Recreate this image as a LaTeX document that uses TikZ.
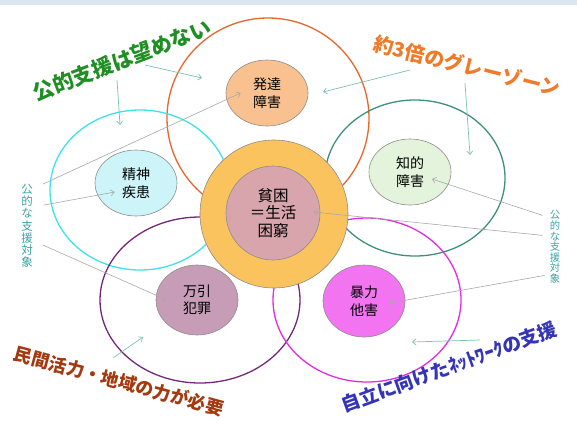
\documentclass[tikz,border=0pt]{standalone}
\usepackage{fontspec}
\setmainfont{Noto Sans CJK JP}
\usetikzlibrary{shapes.geometric,arrows.meta}
\definecolor{bandc}{HTML}{DCE6F2}
\definecolor{ringor}{HTML}{E8662A}
\definecolor{ringcy}{HTML}{3EE3EA}
\definecolor{ringte}{HTML}{3F8F7A}
\definecolor{ringpu}{HTML}{73267A}
\definecolor{ringma}{HTML}{E22BE2}
\definecolor{outerf}{HTML}{FBC35E}
\definecolor{innerf}{HTML}{D8A5AC}
\definecolor{hattf}{HTML}{FAC190}
\definecolor{seisf}{HTML}{CDF4F8}
\definecolor{chitf}{HTML}{E4F4DC}
\definecolor{manbf}{HTML}{C79CB6}
\definecolor{bouf}{HTML}{F274F0}
\definecolor{labg}{HTML}{1F8F24}
\definecolor{labo}{HTML}{F07A28}
\definecolor{labr}{HTML}{A4380E}
\definecolor{labb}{HTML}{3434B8}
\definecolor{vtext}{HTML}{3AA2A4}
\definecolor{arrgray}{HTML}{A8A8A8}
\definecolor{arrteal}{HTML}{7CC0B0}
\definecolor{edgegray}{HTML}{8C8C8C}
\begin{document}
\begin{tikzpicture}[x=1pt,y=-1pt,
  ring/.style={line width=1.3pt},
  smallell/.style={ellipse, draw=edgegray, line width=0.6pt, minimum width=82pt, minimum height=66pt, inner sep=0pt, align=center, font=\fontsize{14}{17.5}\selectfont},
  biglabel/.style={font=\fontsize{#1}{#1}\selectfont\bfseries, inner sep=0pt},
  vlabel/.style={text=vtext, align=center, inner sep=0pt},
  grayarr/.style={draw=arrgray, line width=0.6pt, -{Straight Barb[length=3.5pt,width=6pt]}},
  tealarr/.style={draw=arrteal, line width=0.7pt, -{Straight Barb[length=3.5pt,width=6pt]}}
]
\useasboundingbox (0,0) rectangle (577,426);
\fill[bandc] (0,0) rectangle (577,5);

% large rings
\draw[ring, ringor] (268,118) ellipse [x radius=101, y radius=100];
\draw[ring, ringcy] (140,190) ellipse [x radius=90, y radius=80];
\draw[ring, ringte] (415,178) ellipse [x radius=90, y radius=78];
\draw[ring, ringpu] (200,300) ellipse [x radius=100, y radius=83];
\draw[ring, ringma] (367,300) ellipse [x radius=94, y radius=82];

% center
\node[circle, fill=outerf, draw=edgegray, line width=0.6pt, minimum size=148pt, inner sep=0pt] (outer) at (274,214) {};
\node[circle, fill=innerf, draw=edgegray, line width=0.6pt, minimum size=94pt, inner sep=0pt, align=center, font=\fontsize{15.5}{17.5}\selectfont] (hinkon) at (273,213) {貧困\\＝生活\\困窮};

% small ellipses
\node[smallell, fill=hattf] (hatt) at (267,93) {発達\\障害};
\node[smallell, fill=seisf] (seis) at (136,183) {精神\\疾患};
\node[smallell, fill=chitf] (chit) at (410,172) {知的\\障害};
\node[smallell, fill=manbf, minimum height=70pt] (manb) at (197,300) {万引\\犯罪};
\node[smallell, fill=bouf, minimum height=72pt] (bou) at (364,301) {暴力\\他害};

% slanted labels
\node[biglabel=21, text=labg, rotate=21] (lg) at (122,60) {公的支援は望めない};
\node[biglabel=20, text=labo, rotate=-14] (lo) at (467,66) {約3倍のグレーゾーン};
\node[biglabel=18, text=labr, rotate=-15] (lr) at (119,381) {民間活力・地域の力が必要};
\node[biglabel=19, text=labb, rotate=20] (lb) at (449,367) {自立に向けたﾈｯﾄﾜｰｸの支援};

% vertical labels
\node[vlabel, font=\fontsize{11.5}{12.2}\selectfont] (vl) at (27,226) {公\\的\\な\\支\\援\\対\\象};
\node[vlabel, font=\fontsize{10.3}{10.6}\selectfont] (vr) at (555,247) {公\\的\\な\\支\\援\\対\\象};

% coordinates for free ends
\coordinate (g1s) at (117,80);  \coordinate (g1e) at (120,125);
\coordinate (g2s) at (145,65);  \coordinate (g2e) at (202,78);
\coordinate (o1s) at (410,70);  \coordinate (o1e) at (323,92);
\coordinate (o2s) at (465,83);  \coordinate (o2e) at (470,155);
\coordinate (r1s) at (113,358); \coordinate (r1e) at (143,337);
\coordinate (b1s) at (480,340); \coordinate (b1e) at (412,342);

\draw[tealarr] (g1s) -- (g1e);
\draw[tealarr] (g2s) -- (g2e);
\draw[tealarr] (o1s) -- (o1e);
\draw[tealarr] (o2s) -- (o2e);
\draw[tealarr] (r1s) -- (r1e);
\draw[tealarr] (b1s) -- (b1e);

% gray arrows from vertical labels
\draw[grayarr] ([xshift=10pt,yshift=0pt]vl.north east) -- ([xshift=15pt]hatt.west);
\draw[grayarr] ([xshift=11pt,yshift=-21pt]vl.north east) -- ([xshift=20pt,yshift=-9pt]seis.west);
\draw[grayarr] ([xshift=10pt,yshift=-61pt]vl.north east) -- ([xshift=11pt]manb.west);
\draw[grayarr] ([xshift=-7pt,yshift=-5pt]vr.north west) -- ([xshift=22pt,yshift=-7pt]chit.center);
\draw[grayarr] ([xshift=-7pt,yshift=-25pt]vr.north west) -- ([xshift=-7pt,yshift=1pt]hinkon.east);
\draw[grayarr] ([xshift=-5pt,yshift=-65pt]vr.north west) -- ([xshift=26pt,yshift=-2pt]bou.center);
\end{tikzpicture}
\end{document}
